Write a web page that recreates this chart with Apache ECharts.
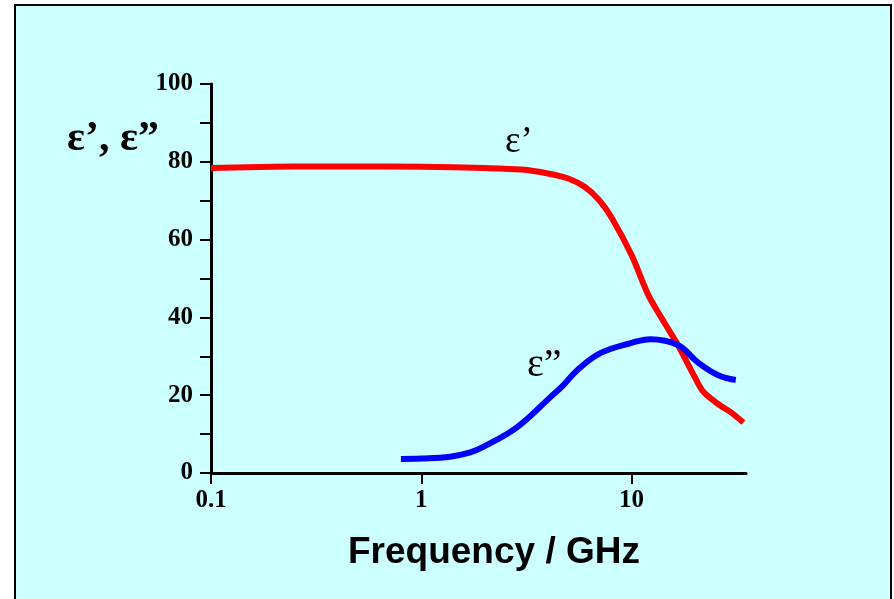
<!DOCTYPE html>
<html>
<head>
<meta charset="utf-8">
<style>html,body{margin:0;padding:0;background:#fff;}#c{width:894px;height:599px;}</style>
<script src="https://cdn.jsdelivr.net/npm/echarts@6/dist/echarts.min.js"></script>
</head>
<body>
<div id="c"></div>
<script>
// ε' (real part) : frequency (GHz) and value
var realFreq = [0.1, 0.2, 0.3, 0.5, 1, 2, 3, 4, 5, 6, 7, 8, 10, 12, 14, 16.6, 20, 22, 25.7, 30, 34];
var realVals = [78.4, 78.7, 78.8, 78.8, 78.7, 78.4, 78.0, 77.0, 75.7, 73.5, 70.2, 65.8, 56.0, 45.8, 39.5, 32.9, 24.6, 20.8, 17.8, 15.4, 13.0];
// ε'' (imaginary part)
var imagFreq = [0.8, 1.0, 1.37, 1.71, 1.97, 2.86, 4.11, 4.74, 5.53, 7.1, 9.9, 12.3, 16.6, 20.6, 25.7, 31.3];
var imagVals = [3.6, 3.7, 4.2, 5.3, 6.7, 11.8, 19.5, 22.6, 26.5, 30.8, 33.4, 34.4, 32.9, 28.5, 25.2, 23.9];
var xTicks = [0.1, 1, 10];
var yTicks = [0, 20, 40, 60, 80, 100];

function pairs(xs, ys){ return xs.map(function(x,i){return [x, ys[i]];}); }

var chart = echarts.init(document.getElementById('c'));
chart.setOption({
  animation: false,
  backgroundColor: '#ffffff',
  graphic: [
    {type:'rect', z:-10, shape:{x:15, y:5, width:876, height:620}, style:{fill:'#ccffff', stroke:'#000', lineWidth:2}},
    {type:'text', left:67, top:118, z:10, style:{text:'ε’, ε”', font:'bold 42px "Liberation Serif"', fill:'#000'}},
    {type:'text', left:505, top:124, z:10, style:{text:'ε’', font:'37px "Liberation Serif"', fill:'#000'}},
    {type:'text', left:527, top:345, z:10, style:{text:'ε”', font:'40px "Liberation Serif"', fill:'#000'}},
    {type:'text', left:348, top:534, z:10, style:{text:'Frequency / GHz', font:'bold 37px "Liberation Sans"', fill:'#000'}}
  ],
  grid: {left:211, right:148, top:84, bottom:126, containLabel:false},
  xAxis: {
    type:'log', logBase:10, min:0.1, max:35,
    axisLine:{show:true, onZero:false, lineStyle:{color:'#000', width:3}},
    axisTick:{show:true, length:11, customValues:xTicks, lineStyle:{color:'#000', width:2}},
    minorTick:{show:false},
    splitLine:{show:false},
    axisLabel:{margin:15, color:'#000', fontFamily:'Liberation Serif', fontWeight:'bold', fontSize:25,
      customValues:xTicks,
      formatter:function(v){ var r = +(+v).toPrecision(3); return String(r); }}
  },
  yAxis: {
    type:'value', min:0, max:100, interval:10,
    axisLine:{show:true, lineStyle:{color:'#000', width:3}},
    axisTick:{show:true, length:11, lineStyle:{color:'#000', width:2}},
    splitLine:{show:false},
    axisLabel:{margin:18, color:'#000', fontFamily:'Liberation Serif', fontWeight:'bold', fontSize:25,
      formatter:function(v){ return yTicks.indexOf(v) >= 0 ? String(v) : ''; }}
  },
  series: [
    {type:'line', data:pairs(realFreq, realVals), smooth:0.3, showSymbol:false, symbol:'none', lineStyle:{color:'#ff0000', width:6}, z:3},
    {type:'line', data:pairs(imagFreq, imagVals), smooth:0.4, showSymbol:false, symbol:'none', lineStyle:{color:'#0000ff', width:6}, z:4}
  ]
});
</script>
</body>
</html>
